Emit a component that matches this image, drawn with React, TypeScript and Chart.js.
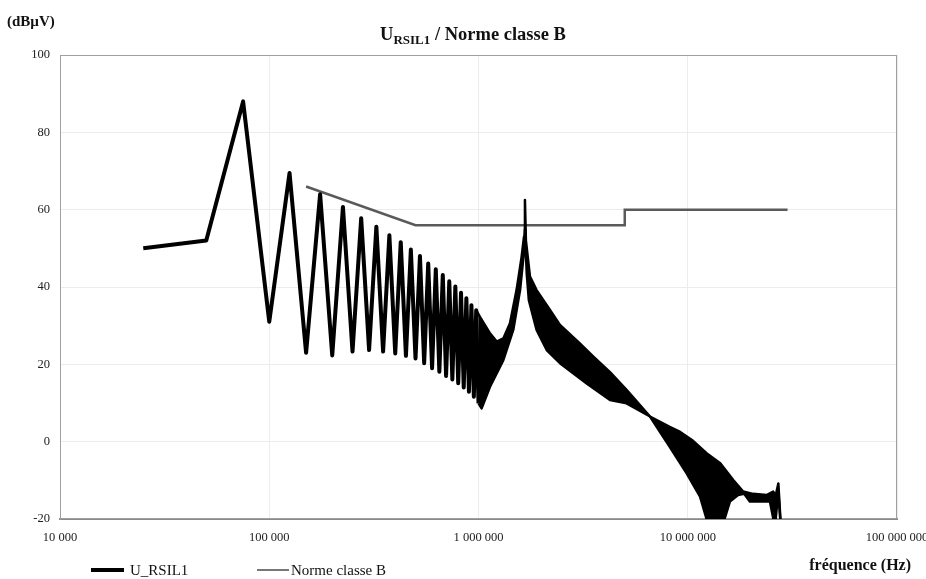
import React, { useEffect, useRef } from "react";
import { Chart, registerables } from "chart.js";

Chart.register(...registerables);

// ---- Data ----
// Individual harmonics of U_RSIL1 (Hz, dBµV), 25 kHz spacing, up to 1 MHz
const harmonicFreqs = [
  25000, 50000, 75000, 100000, 125000, 150000, 175000, 200000, 225000, 250000,
  275000, 300000, 325000, 350000, 375000, 400000, 425000, 450000, 475000, 500000,
  525000, 550000, 575000, 600000, 625000, 650000, 675000, 700000, 725000, 750000,
  775000, 800000, 825000, 850000, 875000, 900000, 925000, 950000, 975000, 1000000,
];
const harmonicLevels = [
  50, 52, 88, 31, 69.5, 23, 64, 22.3, 60.7, 23.3,
  57.8, 23.7, 55.6, 23.3, 53.4, 22.8, 51.6, 22.2, 49.7, 21.5,
  48, 20.3, 46.1, 19, 44.6, 18.1, 43.1, 17, 41.5, 16.1,
  40.1, 15.1, 38.5, 14, 37.1, 12.9, 35.3, 11.6, 34, 9.9,
];

// Dense part of U_RSIL1 (> 1 MHz): upper and lower envelope of the harmonics band
const bandUpperFreqs = [
  975000, 1016000, 1135000, 1222000, 1314000, 1414000, 1520000, 1607000, 1650000,
  1667000, 1685000, 1762000, 1895000, 2200000, 2450000, 3050000, 3540000, 4250000,
  5100000, 6600000, 8200000, 9200000, 10600000, 12300000, 14300000, 16500000,
  18400000, 20500000, 23800000, 25600000, 26300000, 27100000, 28000000,
];
const bandUpperLevels = [
  34, 32.3, 28, 25.9, 26.7, 30.6, 39.2, 47.8, 53,
  62.5, 52, 42.7, 39.2, 34, 30.2, 25.4, 22, 18,
  13.4, 6.5, 3.8, 2.5, 0.2, -3, -5.6, -9.9,
  -12.9, -13.5, -13.8, -12.9, -14, -10.8, -24,
];
const bandLowerFreqs = [
  1000000, 1035000, 1135000, 1314000, 1466000, 1580000, 1640000, 1667000, 1700000,
  1740000, 1895000, 2118000, 2450000, 3300000, 4250000, 5100000, 6600000, 8200000,
  9880000, 11450000, 12300000, 13500000, 14600000, 15900000, 17400000, 18600000,
  19800000, 24700000, 26100000, 27100000, 28000000,
];
const bandLowerLevels = [
  9.9, 8.6, 14.2, 21.1, 28.9, 39.2, 47.8, 55, 43.5,
  36.6, 28.9, 23.7, 20.3, 15, 10.8, 9.9, 6.5, -1.3,
  -8.2, -14.2, -20, -28, -22, -15.5, -13.8, -13.5,
  -15.5, -15.5, -22, -13, -24,
];

// Norme classe B (CISPR 22 class B QP limit)
const normeFreqs = [150000, 500000, 5000000, 5000000, 30000000];
const normeLevels = [66, 56, 56, 60, 60];

// Axes
const xTickValues = [10000, 100000, 1000000, 10000000, 100000000];
const xTickLabels = ["10 000", "100 000", "1 000 000", "10 000 000", "100 000 000"];
const yMin = -20;
const yMax = 100;
const yStep = 20;

const seriesName = "U_RSIL1";
const normeName = "Norme classe B";

const toPoints = (xs: number[], ys: number[]) => xs.map((x, i) => ({ x, y: ys[i] }));

const FONT = "'Liberation Serif', 'Times New Roman', serif";

const framePlugin = {
  id: "frame",
  beforeDatasetsDraw(chart: any) {
    const { ctx, chartArea: a } = chart;
    ctx.save();
    ctx.strokeStyle = "#a0a0a0";
    ctx.lineWidth = 1;
    ctx.strokeRect(a.left + 0.5, a.top + 0.5, a.right - a.left - 1, a.bottom - a.top - 1);
    ctx.restore();
  },
};

export default function App() {
  const canvasRef = useRef<HTMLCanvasElement | null>(null);

  useEffect(() => {
    document.body.style.margin = "0";
    const canvas = canvasRef.current;
    if (!canvas) return;
    const chart = new Chart(canvas, {
      type: "line",
      data: {
        datasets: [
          {
            label: seriesName,
            data: toPoints(harmonicFreqs, harmonicLevels),
            borderColor: "#000",
            borderWidth: 4,
            borderJoinStyle: "round",
            pointRadius: 0,
            tension: 0,
            fill: false,
          },
          {
            label: "band-upper",
            data: toPoints(bandUpperFreqs, bandUpperLevels),
            borderColor: "#000",
            borderWidth: 2.5,
            borderJoinStyle: "round",
            pointRadius: 0,
            tension: 0,
            fill: { target: 2 },
            backgroundColor: "#000",
          },
          {
            label: "band-lower",
            data: toPoints(bandLowerFreqs, bandLowerLevels),
            borderColor: "#000",
            borderWidth: 2.5,
            borderJoinStyle: "round",
            pointRadius: 0,
            tension: 0,
            fill: false,
          },
          {
            label: normeName,
            data: toPoints(normeFreqs, normeLevels),
            borderColor: "#5a5a5a",
            borderWidth: 2.5,
            pointRadius: 0,
            tension: 0,
            fill: false,
          },
        ],
      },
      options: {
        animation: false,
        responsive: false,
        devicePixelRatio: 1,
        layout: { padding: { top: 55, right: 29, left: 0, bottom: 0 } },
        plugins: {
          legend: { display: false },
          title: { display: false },
          tooltip: { enabled: false },
        },
        scales: {
          x: {
            type: "logarithmic",
            min: xTickValues[0],
            max: xTickValues[xTickValues.length - 1],
            afterBuildTicks: (scale: any) => {
              scale.ticks = xTickValues.map((v) => ({ value: v }));
            },
            afterFit: (scale: any) => {
              scale.height = 60;
              scale.paddingLeft = 0;
              scale.paddingRight = 0;
            },
            ticks: {
              autoSkip: false,
              maxRotation: 0,
              minRotation: 0,
              padding: 11,
              color: "#222",
              font: { family: FONT, size: 12.5 },
              callback: (_v: any, i: number) => xTickLabels[i],
            },
            grid: { color: "#ececec", lineWidth: 1, drawTicks: false },
            border: { display: true, color: "#8a8a8a", width: 2 },
          },
          y: {
            type: "linear",
            min: yMin,
            max: yMax,
            afterFit: (scale: any) => {
              scale.width = 60;
              scale.paddingTop = 0;
              scale.paddingBottom = 0;
            },
            ticks: {
              stepSize: yStep,
              padding: 10,
              color: "#222",
              font: { family: FONT, size: 12.5 },
            },
            grid: { color: "#ececec", lineWidth: 1, drawTicks: false },
            border: { display: true, color: "#a0a0a0", width: 1 },
          },
        },
      },
      plugins: [framePlugin],
    });
    return () => chart.destroy();
  }, []);

  const bold = { fontFamily: FONT, fontWeight: 700, color: "#111" } as const;
  const regular = { fontFamily: FONT, fontWeight: 400, color: "#111" } as const;

  return (
    <div style={{ position: "fixed", left: 0, top: 0, width: 926, height: 579, background: "#fff" }}>
      <canvas ref={canvasRef} width={926} height={579} style={{ display: "block", width: 926, height: 579 }} />
      <div style={{ ...bold, position: "absolute", left: 7, top: 12, fontSize: 15, lineHeight: "18px", whiteSpace: "nowrap" }}>
        (dBµV)
      </div>
      <div style={{ ...bold, position: "absolute", left: 0, width: 946, top: 24, fontSize: 18.5, lineHeight: "20px", textAlign: "center", whiteSpace: "nowrap" }}>
        U<span style={{ fontSize: 13, position: "relative", top: 4 }}>RSIL1</span> / Norme classe B
      </div>
      <div style={{ ...bold, position: "absolute", right: 15, top: 555, fontSize: 16, lineHeight: "20px", whiteSpace: "nowrap" }}>
        fréquence (Hz)
      </div>
      <div style={{ position: "absolute", left: 91, top: 568, width: 33, height: 4, background: "#000" }} />
      <div style={{ ...regular, position: "absolute", left: 130, top: 560, fontSize: 15, lineHeight: "20px", whiteSpace: "nowrap" }}>
        {seriesName}
      </div>
      <div style={{ position: "absolute", left: 257, top: 569, width: 32, height: 2, background: "#777" }} />
      <div style={{ ...regular, position: "absolute", left: 291, top: 560, fontSize: 15, lineHeight: "20px", whiteSpace: "nowrap" }}>
        {normeName}
      </div>
    </div>
  );
}
